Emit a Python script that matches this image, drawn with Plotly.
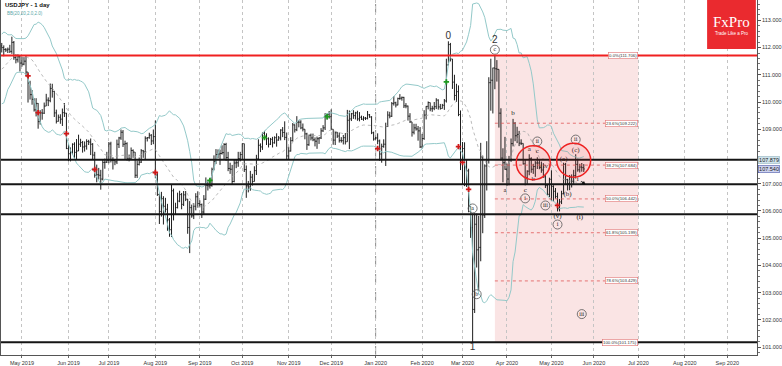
import pandas as pd
import plotly.graph_objects as go

# ---------------- data ----------------
# closes before the visible window, needed for the Bollinger Bands (20, 2)
warmup_close = [111.42, 110.66, 110.82, 109.92, 109.97, 110.62, 110.53, 110.62, 110.86, 111.36,
                111.34, 111.49, 111.64, 111.71, 111.48, 111.15, 110.99, 111.64, 112.02, 112.03, 112.06]

close = [
    # Apr 2019 (17th-30th)
    112.00, 111.93, 111.91, 111.94, 111.86, 112.19, 111.63, 111.55, 111.66, 111.43,
    # May 2019
    111.39, 111.50, 111.10, 110.70, 110.27, 110.10, 109.71, 109.95, 109.28, 109.60,
    109.59, 109.85, 110.07, 110.05, 110.50, 110.39, 109.60, 109.29, 109.44, 109.37,
    109.61, 109.59, 108.29,
    # Jun 2019
    108.10, 108.15, 108.45, 108.15, 108.20, 108.45, 108.51, 108.35, 108.38, 108.55,
    108.53, 108.45, 108.05, 107.30, 107.33, 107.31, 107.17, 107.78, 107.79, 107.86,
    # Jul 2019
    108.46, 107.86, 107.85, 107.80, 108.45, 108.68, 108.89, 108.45, 108.47, 107.91,
    107.91, 108.22, 108.16, 107.31, 107.71, 107.79, 108.21, 108.17, 108.67, 108.69,
    108.78, 108.57, 108.73,
    # Aug 2019
    107.32, 106.60, 105.98, 106.45, 106.17, 106.06, 105.67, 105.31, 106.74, 105.87,
    106.12, 106.36, 106.60, 106.24, 106.59, 106.43, 105.39, 106.12, 105.82, 106.17,
    106.52, 106.27,
    # Sep 2019
    106.23, 105.96, 106.43, 106.94, 106.92, 106.93, 107.53, 107.82, 108.07, 108.09,
    108.11, 108.14, 108.44, 107.96, 107.56, 107.53, 107.08, 107.76, 107.77, 107.92,
    108.07,
    # Oct 2019
    108.47, 107.52, 106.92, 106.88, 107.24, 107.08, 107.48, 107.91, 108.41, 108.35,
    108.85, 108.74, 108.65, 108.45, 108.63, 108.50, 108.69, 108.60, 108.68, 108.97,
    108.88, 108.70, 108.02,
    # Nov 2019
    108.20, 108.58, 109.16, 108.98, 109.26, 109.26, 109.05, 109.00, 108.83, 108.43,
    108.78, 108.68, 108.61, 108.56, 108.65, 108.68, 108.94, 109.05, 109.50, 109.55,
    109.46,
    # Dec 2019
    109.00, 108.60, 108.87, 108.75, 108.59, 108.58, 108.69, 108.54, 109.33, 109.38,
    109.57, 109.50, 109.60, 109.38, 109.44, 109.37, 109.41, 109.40, 109.53, 109.45,
    108.87, 108.64,
    # Jan 2020
    108.68, 108.57, 108.09, 108.37, 108.45, 109.10, 109.52, 109.48, 109.94, 109.97,
    109.89, 110.13, 110.14, 110.17, 109.86, 109.85, 109.48, 109.27, 108.89, 109.05,
    109.01, 108.94, 108.35,
    # Feb 2020
    108.66, 109.52, 109.84, 109.98, 109.75, 109.77, 109.83, 110.07, 109.82, 109.76,
    109.88, 110.04, 111.36, 112.11, 111.58, 110.73, 110.24, 110.38, 109.54, 107.84,
    # Mar 2020
    108.29, 107.62, 107.47, 106.16, 105.38, 102.38, 105.51, 104.57, 104.66, 107.98,
    105.85, 107.65, 107.87, 110.71, 110.80, 111.25, 111.22, 111.20, 109.59, 107.94,
    107.77, 107.53,
    # Apr 2020
    107.17, 107.88, 108.47, 109.22, 108.76, 108.81, 108.49, 108.48, 107.73, 107.22,
    107.46, 107.92, 107.53, 107.63, 107.76, 107.76, 107.59, 107.50, 107.25, 106.93,
    106.61, 107.16,
    # May 2020 (1st-25th)
    106.90, 106.72, 106.53, 106.08, 106.33, 106.63, 107.71, 107.15, 107.00, 107.24,
    107.09, 107.30, 107.71, 107.51, 107.61, 107.59, 107.54,
]

high = [
    112.17, 112.08, 111.98, 112.00, 112.10, 112.40, 112.24, 111.75, 111.75, 111.70,
    111.66, 111.65, 111.70, 110.99, 110.78, 110.44, 110.14, 110.14, 109.96, 109.70,
    109.74, 109.98, 110.30, 110.17, 110.68, 110.67, 110.40, 109.72, 109.54, 109.55,
    109.76, 109.96, 109.60,
    108.45, 108.33, 108.48, 108.52, 108.64, 108.80, 108.65, 108.57, 108.55, 108.63,
    108.61, 108.66, 108.49, 108.17, 107.70, 107.58, 107.51, 107.87, 107.92, 108.17,
    108.53, 108.54, 107.97, 107.89, 108.62, 108.72, 108.99, 108.97, 108.58, 108.52,
    108.07, 108.33, 108.26, 108.15, 107.85, 107.96, 108.27, 108.24, 108.74, 108.71,
    108.87, 108.82, 108.99,
    109.32, 107.39, 106.66, 106.70, 106.54, 106.48, 106.26, 105.74, 106.98, 106.82,
    106.30, 106.67, 106.74, 106.66, 106.73, 106.73, 106.44, 106.36, 106.23, 106.28,
    106.65, 106.72,
    106.39, 106.27, 106.58, 107.23, 107.12, 107.18, 107.59, 108.04, 108.27, 108.26,
    108.25, 108.41, 108.49, 108.50, 108.17, 107.77, 107.69, 107.90, 107.90, 108.17,
    108.17,
    108.48, 108.47, 107.67, 107.10, 107.47, 107.36, 107.64, 108.06, 108.63, 108.48,
    108.88, 108.94, 108.85, 108.70, 108.68, 108.72, 108.74, 108.85, 108.75, 109.00,
    109.08, 109.29, 108.88,
    108.35, 108.71, 109.23, 109.18, 109.48, 109.34, 109.33, 109.21, 109.00, 108.87,
    108.80, 108.84, 108.84, 108.70, 108.73, 108.71, 109.04, 109.15, 109.59, 109.59,
    109.67,
    109.73, 109.00, 108.92, 108.90, 108.88, 108.71, 108.79, 108.86, 109.71, 109.69,
    109.60, 109.70, 109.64, 109.68, 109.63, 109.50, 109.48, 109.45, 109.67, 109.56,
    109.48, 108.91,
    108.72, 108.85, 108.62, 108.47, 108.63, 109.24, 109.66, 109.64, 110.00, 110.22,
    110.01, 110.16, 110.29, 110.20, 110.19, 109.96, 109.87, 109.59, 109.27, 109.20,
    109.20, 109.12, 109.08,
    108.83, 109.70, 109.85, 110.02, 109.97, 109.86, 110.00, 110.14, 110.10, 109.93,
    109.93, 110.11, 111.59, 112.23, 112.17, 111.40, 111.00, 110.67, 110.61, 109.69,
    108.53, 108.52, 107.87, 107.55, 106.18, 105.90, 105.91, 105.90, 105.82, 108.50,
    108.03, 107.71, 108.56, 110.91, 111.59, 111.26, 111.71, 111.54, 111.12, 109.77,
    108.30, 108.72,
    107.74, 108.02, 108.66, 109.38, 109.26, 109.09, 108.94, 108.63, 108.45, 107.87,
    107.49, 108.08, 107.97, 107.73, 107.83, 107.97, 107.91, 107.81, 107.75, 107.36,
    106.95, 107.22,
    107.49, 106.94, 106.84, 106.67, 106.44, 106.74, 107.77, 107.76, 107.18, 107.32,
    107.34, 107.51, 108.08, 107.92, 107.73, 107.76, 107.72,
]

low = [
    111.82, 111.68, 111.84, 111.80, 111.80, 111.77, 111.55, 111.42, 111.45, 111.12,
    111.30, 111.35, 110.95, 109.98, 110.09, 109.90, 109.65, 109.47, 109.02, 109.17,
    109.35, 109.56, 109.85, 109.85, 109.99, 110.16, 109.45, 109.21, 109.28, 109.20,
    109.12, 109.45, 108.27,
    107.82, 107.82, 108.07, 107.94, 107.88, 108.24, 108.35, 108.14, 108.18, 108.25,
    108.42, 108.05, 107.88, 107.22, 107.05, 107.15, 106.78, 107.12, 107.55, 107.76,
    107.75, 107.78, 107.52, 107.68, 107.72, 108.31, 108.61, 108.35, 107.90, 107.85,
    107.82, 107.90, 107.95, 107.21, 107.21, 107.67, 107.76, 107.95, 107.89, 108.55,
    108.65, 108.42, 108.45,
    107.20, 106.55, 105.52, 105.79, 105.50, 105.94, 105.27, 105.05, 105.04, 105.65,
    105.88, 106.09, 106.32, 106.06, 106.18, 106.36, 105.16, 104.45, 105.75, 105.70,
    106.02, 106.12,
    106.13, 105.74, 105.87, 106.40, 106.75, 106.82, 106.89, 107.49, 107.72, 107.93,
    107.69, 108.07, 107.89, 107.84, 107.46, 107.36, 106.97, 107.05, 107.57, 107.62,
    107.82,
    107.90, 107.43, 106.48, 106.68, 106.74, 106.93, 107.08, 107.32, 107.90, 108.16,
    108.24, 108.63, 108.42, 108.33, 108.42, 108.33, 108.47, 108.36, 108.58, 108.59,
    108.71, 108.60, 107.89,
    107.89, 108.18, 108.55, 108.88, 108.93, 109.07, 109.00, 108.92, 108.63, 108.24,
    108.39, 108.59, 108.56, 108.37, 108.28, 108.46, 108.64, 108.90, 108.97, 109.36,
    109.39,
    108.98, 108.43, 108.42, 108.68, 108.51, 108.51, 108.44, 108.44, 108.54, 108.27,
    109.30, 109.38, 109.36, 109.31, 109.29, 109.34, 109.31, 109.34, 109.36, 109.42,
    108.82, 108.58,
    108.62, 108.45, 107.84, 107.77, 108.32, 107.65, 109.08, 109.40, 109.45, 109.87,
    109.80, 109.88, 110.08, 110.05, 109.78, 109.77, 109.32, 109.23, 108.73, 108.81,
    108.95, 108.58, 108.31,
    108.29, 108.61, 109.36, 109.73, 109.66, 109.64, 109.70, 109.74, 109.72, 109.72,
    109.76, 109.71, 109.98, 111.35, 111.49, 110.48, 110.06, 110.00, 109.48, 107.50,
    106.95, 106.91, 106.88, 105.95, 105.01, 101.18, 102.25, 103.92, 103.08, 104.15,
    105.18, 105.74, 106.75, 107.74, 109.68, 109.58, 110.47, 110.75, 109.06, 107.85,
    107.05, 107.51,
    106.92, 106.94, 107.80, 108.37, 108.56, 108.49, 108.38, 108.42, 107.70, 106.94,
    106.96, 107.31, 107.40, 107.36, 107.25, 107.54, 107.53, 107.40, 107.22, 106.84,
    106.57, 106.51,
    106.36, 106.35, 106.45, 105.98, 105.98, 106.25, 106.61, 106.95, 106.75, 106.76,
    106.86, 106.99, 107.19, 107.44, 107.41, 107.44, 107.43,
]

warm_dates = pd.bdate_range("2019-03-19", "2019-04-16")
dates = pd.bdate_range("2019-04-17", "2020-05-25")
assert len(warm_dates) == len(warmup_close)
assert len(dates) == len(close) == len(high) == len(low)

# FX daily bars open at the previous bar's close
opens = [warmup_close[-1]] + close[:-1]
high = [max(h, o, c) for h, o, c in zip(high, opens, close)]
low = [min(l, o, c) for l, o, c in zip(low, opens, close)]

# price-axis labels shown (108.000 is hidden behind the level tag in the reference)
price_ticks = [101, 102, 103, 104, 105, 106, 107, 109, 110, 111, 112, 113]

# horizontal levels
resistance_level = 111.706
black_levels = [107.879, 106.98, 105.88, 101.175]
year_separator = "2020-01-01"

# Fibonacci retracement (from the 1 low to the 2 high)
fib_hi, fib_lo = 111.706, 101.175
fib_start, fib_end = "2020-03-24", "2020-07-01"
fib_ratios = [0.0, 0.236, 0.382, 0.5, 0.618, 0.786, 1.0]
fib_labels = ["0.0%(111.706)", "23.6%(109.222)", "38.2%(107.684)", "50.0%(106.442)",
              "61.8%(105.199)", "78.6%(103.429)", "100.0%(101.175)"]

# signal arrows
sig_red_dates = ["2019-05-06", "2019-05-13", "2019-05-31", "2019-06-20", "2019-08-01",
                 "2020-01-02", "2020-02-27", "2020-03-02", "2020-03-05", "2020-05-06"]
sig_red_prices = [110.96, 109.61, 108.84, 107.52, 107.41, 108.29, 108.36, 107.78, 106.79, 106.20]
sig_green_dates = ["2019-09-09", "2019-10-16", "2019-11-28", "2020-02-19"]
sig_green_prices = [107.12, 108.69, 109.46, 110.74]

# Elliott wave labels
major_text = ["0", "2", "1"]
major_dates = ["2020-02-20", "2020-03-24", "2020-03-09"]
major_prices = [112.39, 112.25, 100.99]

circ_text = ["c", "a", "b", "i", "ii", "iii", "i", "ii", "iii"]
circ_dates = ["2020-03-24", "2020-03-09", "2020-03-11", "2020-04-14", "2020-04-22",
              "2020-04-28", "2020-05-06", "2020-05-19", "2020-05-22"]
circ_prices = [111.92, 106.09, 102.94, 106.46, 108.55, 106.20, 105.50, 108.62, 102.21]

wave_text = ["b", "a", "c", "a", "c", "b", "(iv)", "(v)", "(a)", "(b)", "(c)", "i", "(i)"]
wave_dates = ["2020-04-06", "2020-03-31", "2020-04-14", "2020-04-16", "2020-04-22",
              "2020-04-20", "2020-04-28", "2020-05-06", "2020-05-11", "2020-05-13",
              "2020-05-19", "2020-05-20", "2020-05-21"]
wave_prices = [109.57, 106.75, 106.75, 108.25, 108.18, 107.15, 107.63, 105.80, 107.89,
               106.60, 108.22, 107.15, 105.76]

circle_dates = ["2020-04-20", "2020-05-18"]
circle_prices = [107.77, 107.86]

# ---------------- indicators ----------------
s = pd.Series(warmup_close + close)
mid = s.rolling(20).mean()
sd = s.rolling(20).std(ddof=0)
n = len(close)
bb_mid = mid.iloc[-n:].tolist()
bb_up = (mid + 2 * sd).iloc[-n:].tolist()
bb_lo = (mid - 2 * sd).iloc[-n:].tolist()

# ---------------- figure ----------------
FONT = "Liberation Sans"
fig = go.Figure()

fig.add_trace(go.Scatter(x=dates, y=bb_up, mode="lines", line=dict(color="#93c9c9", width=1),
                         hoverinfo="skip", showlegend=False))
fig.add_trace(go.Scatter(x=dates, y=bb_lo, mode="lines", line=dict(color="#93c9c9", width=1),
                         hoverinfo="skip", showlegend=False))
fig.add_trace(go.Scatter(x=dates, y=bb_mid, mode="lines",
                         line=dict(color="#a8a8a8", width=0.8, dash="dot"),
                         hoverinfo="skip", showlegend=False))

fig.add_trace(go.Ohlc(x=dates, open=opens, high=high, low=low, close=close,
                      increasing=dict(line=dict(color="#1e1e1e", width=1)),
                      decreasing=dict(line=dict(color="#1e1e1e", width=1)),
                      tickwidth=0.45, hoverinfo="skip", showlegend=False))

fig.add_trace(go.Scatter(x=sig_red_dates, y=sig_red_prices, mode="markers",
                         marker=dict(symbol="cross", size=4.5, color="#d01818"),
                         hoverinfo="skip", showlegend=False))
fig.add_trace(go.Scatter(x=sig_green_dates, y=sig_green_prices, mode="markers",
                         marker=dict(symbol="cross", size=4.5, color="#1f9a1f"),
                         hoverinfo="skip", showlegend=False))

fig.add_trace(go.Scatter(x=circ_dates, y=circ_prices, mode="markers+text", text=circ_text,
                         textposition="middle center",
                         textfont=dict(family="Liberation Serif", size=6, color="#222"),
                         marker=dict(symbol="circle", size=9, color="rgba(255,255,255,0)",
                                     line=dict(color="#555", width=0.8)),
                         hoverinfo="skip", showlegend=False))
fig.add_trace(go.Scatter(x=wave_dates, y=wave_prices, mode="text", text=wave_text,
                         textposition="middle center",
                         textfont=dict(family="Liberation Serif", size=7, color="#222"),
                         hoverinfo="skip", showlegend=False))
fig.add_trace(go.Scatter(x=major_dates, y=major_prices, mode="text", text=major_text,
                         textposition="middle center",
                         textfont=dict(family=FONT, size=10, color="#333"),
                         hoverinfo="skip", showlegend=False))

shapes = []
# Fibonacci zone
shapes.append(dict(type="rect", xref="x", yref="y", x0=fib_start, x1=fib_end, y0=fib_lo, y1=fib_hi,
                   fillcolor="rgba(232,120,120,0.2)", line=dict(width=0), layer="below"))
for r in fib_ratios[1:-1]:
    lv = fib_hi - r * (fib_hi - fib_lo)
    shapes.append(dict(type="line", xref="x", yref="y", x0=fib_start, x1=fib_end, y0=lv, y1=lv,
                       line=dict(color="#e05555", width=0.8, dash="dot")))
# year separator
shapes.append(dict(type="line", xref="x", yref="paper", x0=year_separator, x1=year_separator,
                   y0=0, y1=1, line=dict(color="#8a8a8a", width=1, dash="dash"), layer="below"))
# horizontal levels
shapes.append(dict(type="line", xref="paper", yref="y", x0=0, x1=1, y0=resistance_level,
                   y1=resistance_level, line=dict(color="#f02020", width=2)))
for lv in black_levels:
    shapes.append(dict(type="line", xref="paper", yref="y", x0=0, x1=1, y0=lv, y1=lv,
                       line=dict(color="#151515", width=2)))
# red circles
for d, p in zip(circle_dates, circle_prices):
    shapes.append(dict(type="circle", xref="x", yref="y", xsizemode="pixel", ysizemode="pixel",
                       xanchor=d, yanchor=p, x0=-17, x1=17, y0=-17, y1=17,
                       fillcolor="rgba(255,60,60,0.10)", line=dict(color="#ee2222", width=1.5)))
# logo box
shapes.append(dict(type="rect", xref="paper", yref="paper", x0=0.934, x1=0.9985, y0=0.862, y1=1.0,
                   fillcolor="#ea2a2f", line=dict(width=0)))

annotations = []
annotations.append(dict(xref="paper", yref="paper", x=0.003, y=0.985, xanchor="left", yanchor="middle",
                        text="<b>USDJPY - 1 day</b>", showarrow=False,
                        font=dict(family=FONT, size=6, color="#111")))
annotations.append(dict(xref="paper", yref="paper", x=0.005, y=0.963, xanchor="left", yanchor="middle",
                        text="BB(20,20,2.0,2.0)", showarrow=False,
                        font=dict(family=FONT, size=4.5, color="#5aa7a7")))
for r, lab in zip(fib_ratios, fib_labels):
    lv = fib_hi - r * (fib_hi - fib_lo)
    annotations.append(dict(xref="x", yref="y", x=fib_end, y=lv, xanchor="right", yanchor="middle",
                            text=lab, showarrow=False, bgcolor="white", bordercolor="#e07070",
                            borderwidth=0.6, borderpad=0.5,
                            font=dict(family=FONT, size=4.3, color="#333")))
annotations.append(dict(xref="paper", yref="y", x=1, xshift=1, y=black_levels[0], xanchor="left",
                        yanchor="middle", text=f"{black_levels[0]:.3f}", showarrow=False,
                        bgcolor="#cfe3ec", bordercolor="#9ab8c4", borderwidth=0.6, borderpad=0.5,
                        font=dict(family=FONT, size=5.5, color="#222")))
annotations.append(dict(xref="paper", yref="y", x=1, xshift=1, y=close[-1], xanchor="left",
                        yanchor="middle", text=f"{close[-1]:.3f}", showarrow=False,
                        bgcolor="#cdd2ee", bordercolor="#4e5aa8", borderwidth=0.6, borderpad=0.5,
                        font=dict(family=FONT, size=5.5, color="#222")))
annotations.append(dict(xref="x", yref="y", x="2020-05-26", y=106.95, ax=-6, ay=-5,
                        axref="pixel", ayref="pixel", text="", showarrow=True, arrowhead=2,
                        arrowsize=0.8, arrowwidth=1, arrowcolor="#111"))
annotations.append(dict(xref="paper", yref="paper", x=0.9663, y=0.938, xanchor="center",
                        yanchor="middle", text="FxPro", showarrow=False,
                        font=dict(family="Liberation Serif", size=15, color="white")))
annotations.append(dict(xref="paper", yref="paper", x=0.9663, y=0.905, xanchor="center",
                        yanchor="middle", text="Trade Like a Pro", showarrow=False,
                        font=dict(family=FONT, size=4.5, color="white")))

fig.update_layout(
    width=782, height=366,
    margin=dict(l=1, r=23, t=0, b=10),
    paper_bgcolor="white", plot_bgcolor="white",
    shapes=shapes, annotations=annotations,
    xaxis=dict(type="date", range=["2019-04-16 15:00", "2020-09-21 17:00"],
               rangebreaks=[dict(bounds=["sat", "mon"])],
               rangeslider=dict(visible=False),
               dtick="M1", tick0="2019-05-01", tickformat="%b %Y",
               showgrid=True, gridcolor="#c4c4c4", griddash="dot", gridwidth=1,
               ticks="outside", ticklen=2, tickcolor="#666",
               showline=True, linecolor="#555", linewidth=1,
               tickfont=dict(family=FONT, size=5.5, color="#333"), zeroline=False),
    yaxis=dict(side="right", range=[100.707, 113.747], tickmode="array", tickvals=price_ticks,
               ticktext=[f"{v:.3f}" for v in price_ticks],
               showgrid=False, zeroline=False, ticks="outside", ticklen=3, tickcolor="#555",
               minor=dict(dtick=0.2, ticks="outside", ticklen=1.5, tickcolor="#777"),
               showline=True, linecolor="#555", linewidth=1, mirror=True,
               tickfont=dict(family=FONT, size=5.5, color="#333")),
)

fig.write_html("out.html")
